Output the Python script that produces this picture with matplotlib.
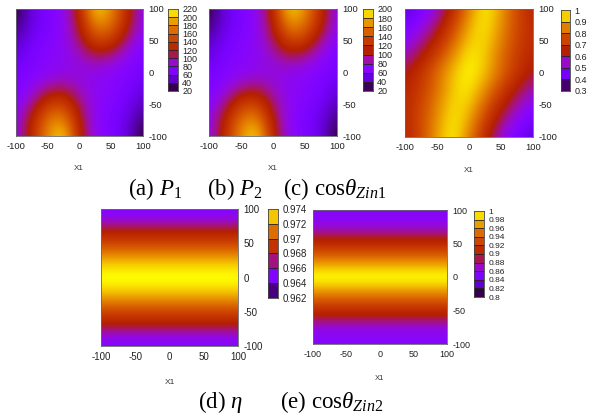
import numpy as np
import matplotlib
matplotlib.use("Agg")
import matplotlib.pyplot as plt
from matplotlib.transforms import Bbox, TransformedBbox

W, H = 616, 420

# grid positions (x left->right, y top->bottom)
grid_x = [-100, -75, -50, -25, 0, 25, 50, 75, 100]
grid_y = [100, 75, 50, 25, 0, -25, -50, -75, -100]

# (a) P1, rows y=100 .. -100
P1 = [
    [25, 55, 70, 80, 125, 215, 185, 130, 80],
    [35, 55, 68, 78, 120, 185, 175, 125, 80],
    [45, 62, 72, 80, 105, 150, 145, 100, 75],
    [55, 68, 76, 80, 90, 108, 100, 82, 68],
    [65, 72, 78, 82, 85, 82, 78, 72, 65],
    [68, 82, 100, 108, 90, 80, 76, 68, 55],
    [75, 100, 145, 150, 105, 80, 72, 62, 45],
    [80, 125, 175, 185, 120, 78, 68, 55, 35],
    [80, 130, 185, 215, 125, 80, 70, 55, 25],
]

# (b) P2
P2 = [
    [25, 52, 65, 74, 115, 196, 170, 120, 74],
    [33, 52, 63, 72, 110, 170, 160, 115, 74],
    [42, 58, 67, 74, 97, 138, 133, 93, 70],
    [51, 63, 70, 74, 84, 100, 93, 76, 63],
    [60, 67, 72, 76, 79, 76, 72, 67, 60],
    [63, 76, 93, 100, 84, 74, 70, 63, 51],
    [70, 93, 133, 138, 97, 74, 67, 58, 42],
    [74, 115, 160, 170, 110, 72, 63, 52, 33],
    [74, 120, 170, 196, 115, 74, 65, 52, 25],
]

# (c) cos theta Zin1
C1 = [
    [0.40, 0.46, 0.53, 0.68, 0.86, 1.00, 0.90, 0.76, 0.66],
    [0.45, 0.51, 0.60, 0.74, 0.91, 0.99, 0.88, 0.76, 0.68],
    [0.50, 0.57, 0.67, 0.81, 0.95, 0.97, 0.86, 0.75, 0.68],
    [0.56, 0.64, 0.75, 0.88, 0.99, 0.95, 0.83, 0.73, 0.66],
    [0.63, 0.71, 0.82, 0.94, 1.00, 0.94, 0.82, 0.71, 0.63],
    [0.66, 0.73, 0.83, 0.95, 0.99, 0.88, 0.75, 0.64, 0.56],
    [0.68, 0.75, 0.86, 0.97, 0.95, 0.81, 0.67, 0.57, 0.50],
    [0.68, 0.76, 0.88, 0.99, 0.91, 0.74, 0.60, 0.51, 0.45],
    [0.66, 0.76, 0.90, 1.00, 0.86, 0.68, 0.53, 0.46, 0.40],
]

# (d) eta and (e) cos theta Zin2 depend on y only, y=100 .. -100 step 12.5
prof_y = [100, 87.5, 75, 62.5, 50, 37.5, 25, 12.5, 0,
          -12.5, -25, -37.5, -50, -62.5, -75, -87.5, -100]
ETA = [0.9652, 0.9658, 0.9672, 0.9685, 0.9698, 0.9712, 0.9726, 0.9736, 0.9740,
       0.9736, 0.9726, 0.9712, 0.9698, 0.9685, 0.9672, 0.9658, 0.9652]
C2 = [0.855, 0.858, 0.868, 0.890, 0.910, 0.935, 0.960, 0.985, 1.000,
      0.985, 0.960, 0.935, 0.910, 0.890, 0.868, 0.858, 0.855]

ticks_a = [20, 40, 60, 80, 100, 120, 140, 160, 180, 200, 220]
ticks_b = [20, 40, 60, 80, 100, 120, 140, 160, 180, 200]
ticks_c = [0.3, 0.4, 0.5, 0.6, 0.7, 0.8, 0.9, 1]
ticks_d = [0.962, 0.964, 0.966, 0.968, 0.97, 0.972, 0.974]
ticks_e = [0.8, 0.82, 0.84, 0.86, 0.88, 0.9, 0.92, 0.94, 0.96, 0.98, 1]
xy_ticks = [-100, -50, 0, 50, 100]

cmap = plt.get_cmap("gnuplot")
plt.rcParams['axes.unicode_minus'] = False
plt.rcParams['font.family'] = ['Liberation Sans', 'DejaVu Sans']


def box(l, t, r, b):
    return [l / W, 1 - b / H, (r - l) / W, (b - t) / H]


fig = plt.figure(figsize=(W / 100, H / 100), dpi=100)


def panel(img_box, cb_box, data, ys, ticks, labels, xlab_pos, fs, cfs, clip_x=None):
    ax = fig.add_axes(box(*img_box))
    arr = np.array(data)
    vmin, vmax = ticks[0], ticks[-1]
    if arr.ndim == 1:
        arr = np.tile(arr[:, None], (1, 2))
        step = abs(ys[1] - ys[0]) / 2
        ext = [-100, 100, -100 - step, 100 + step]
    else:
        ext = [-112.5, 112.5, -112.5, 112.5]
    ax.imshow(arr, extent=ext, cmap=cmap, vmin=vmin, vmax=vmax,
              interpolation="bicubic", aspect="auto", origin="upper")
    ax.set_xlim(-100, 100)
    ax.set_ylim(-100, 100)
    ax.set_xticks(xy_ticks)
    ax.set_yticks(xy_ticks)
    ax.yaxis.tick_right()
    ax.tick_params(length=0, labelsize=fs, pad=4, colors="#222222")
    for s in ax.spines.values():
        s.set_color("#666666")
        s.set_linewidth(0.6)
    fig.text(xlab_pos[0] / W, 1 - xlab_pos[1] / H, "X1", fontsize=fs - 1,
             ha="center", va="center", color="#333333")

    cax = fig.add_axes(box(*cb_box))
    mids = [(ticks[i] + ticks[i + 1]) / 2 for i in range(len(ticks) - 1)]
    cax.pcolormesh([0, 1], ticks, np.array(mids)[:, None], cmap=cmap,
                   vmin=vmin, vmax=vmax)
    for t in ticks[1:-1]:
        cax.axhline(t, color="#222222", lw=0.6)
    cax.set_xlim(0, 1)
    cax.set_ylim(vmin, vmax)
    cax.set_xticks([])
    cax.set_yticks(ticks)
    cax.set_yticklabels(labels)
    cax.yaxis.tick_right()
    cax.tick_params(length=0, labelsize=cfs, pad=3, colors="#222222")
    for s in cax.spines.values():
        s.set_color("#444444")
        s.set_linewidth(0.6)
    if clip_x is not None:
        cb = TransformedBbox(Bbox([[0, 0], [clip_x / W, 1]]), fig.transFigure)
        for lbl in cax.get_yticklabels():
            lbl.set_clip_on(True)
            lbl.set_clip_box(cb)
    return ax


panel((16, 9, 143, 136), (168, 9, 178, 91), P1, grid_y, ticks_a,
      [str(t) for t in ticks_a], (79, 168), 6.8, 6.5)
panel((209, 9, 337, 136), (363, 9, 373, 91), P2, grid_y, ticks_b,
      [str(t) for t in ticks_b], (273, 168), 6.8, 6.5)
panel((405, 9, 533, 137), (561, 10, 570, 91), C1, grid_y, ticks_c,
      ["0.3", "0.4", "0.5", "0.6", "0.7", "0.8", "0.9", "1"], (469, 170), 6.8, 6.5)
panel((101, 209, 238, 346), (268, 209, 278, 298), ETA, prof_y, ticks_d,
      ["0.962", "0.964", "0.966", "0.968", "0.97", "0.972", "0.974"],
      (170, 383), 7, 7, clip_x=307)
panel((313, 210, 447, 344), (474, 211, 484, 297), C2, prof_y, ticks_e,
      ["0.8", "0.82", "0.84", "0.86", "0.88", "0.9", "0.92", "0.94", "0.96",
       "0.98", "1"], (380, 378), 6.5, 6)

plt.rcParams['mathtext.fontset'] = 'custom'
plt.rcParams['mathtext.rm'] = 'Liberation Serif'
plt.rcParams['mathtext.it'] = 'Liberation Serif:italic'
cap = dict(fontsize=16.5, family="Liberation Serif", ha="left", va="baseline")
fig.text(128 / W, 1 - 195 / H, "(a) $P_1$", **cap)
fig.text(207 / W, 1 - 195 / H, "(b) $P_2$", **cap)
fig.text(283 / W, 1 - 195 / H, r"(c) cos$\theta_{Zin1}$", **cap)
fig.text(198 / W, 1 - 408 / H, r"(d) $\eta$", **cap)
fig.text(280 / W, 1 - 408 / H, r"(e) cos$\theta_{Zin2}$", **cap)

fig.savefig("out.png", dpi=100)
